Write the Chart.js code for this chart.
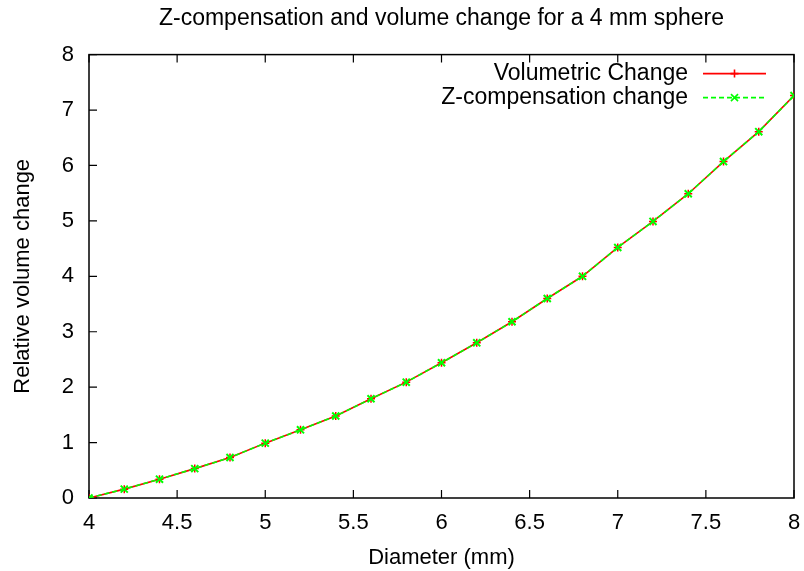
<!DOCTYPE html>
<html>
<head>
<meta charset="utf-8">
<script src="https://cdn.jsdelivr.net/npm/chart.js@4/dist/chart.umd.min.js"></script>
<style>
  body { margin: 0; background: #fff; }
  #wrap { width: 804px; height: 571px; }
</style>
</head>
<body>
<div id="wrap"><canvas id="sphere-chart"></canvas></div>
<script>
// values
var diameters = [4.0, 4.2, 4.4, 4.6, 4.8, 5.0, 5.2, 5.4, 5.6, 5.8, 6.0, 6.2, 6.4, 6.6, 6.8, 7.0, 7.2, 7.4, 7.6, 7.8, 8.0];
var volumetricChange = [0, 0.16, 0.34, 0.53, 0.73, 0.99, 1.23, 1.48, 1.79, 2.09, 2.44, 2.80, 3.18, 3.60, 4.00, 4.52, 4.99, 5.49, 6.07, 6.61, 7.26];
var zCompChange = [0, 0.16, 0.34, 0.53, 0.73, 0.99, 1.23, 1.48, 1.79, 2.09, 2.44, 2.80, 3.18, 3.60, 4.00, 4.52, 4.99, 5.49, 6.07, 6.61, 7.26];
var seriesNames = ["Volumetric Change", "Z-compensation change"];
var xTicks = [4, 4.5, 5, 5.5, 6, 6.5, 7, 7.5, 8];
var yTicks = [0, 1, 2, 3, 4, 5, 6, 7, 8];

var fontFamily = "'Liberation Sans', Arial, Helvetica, sans-serif";

function toPoints(xs, ys) {
    return xs.map(function (x, i) { return { x: x, y: ys[i] }; });
}

// gnuplot style box, inward ticks on bottom/top and left
var frameAndTicks = {
    id: 'frameAndTicks',
    beforeDatasetsDraw: function (chart) {
        var ctx = chart.ctx;
        var area = chart.chartArea;
        var xs = chart.scales.x;
        var ys = chart.scales.y;
        var len = 8;
        ctx.save();
        ctx.strokeStyle = '#000';
        ctx.lineWidth = 1.2;
        ctx.beginPath();
        xTicks.forEach(function (v) {
            var px = xs.getPixelForValue(v);
            ctx.moveTo(px, area.bottom);
            ctx.lineTo(px, area.bottom - len);
            ctx.moveTo(px, area.top);
            ctx.lineTo(px, area.top + len);
        });
        yTicks.forEach(function (v) {
            var py = ys.getPixelForValue(v);
            ctx.moveTo(area.left, py);
            ctx.lineTo(area.left + len, py);
        });
        ctx.stroke();
        ctx.lineWidth = 1.5;
        ctx.strokeRect(area.left, area.top, area.right - area.left, area.bottom - area.top);
        ctx.restore();
    }
};

// legend inside the top right corner: text, then line sample with marker
var keyBox = {
    id: 'keyBox',
    afterDraw: function (chart) {
        var ctx = chart.ctx;
        var area = chart.chartArea;
        var textRight = area.right - 106;
        var sampleLeft = area.right - 91;
        var sampleRight = area.right - 28;
        var rowTop = area.top + 19;
        var rowGap = 24;
        ctx.save();
        ctx.font = "23px " + fontFamily;
        ctx.textAlign = 'right';
        ctx.textBaseline = 'middle';
        chart.data.datasets.forEach(function (ds, i) {
            var y = rowTop + i * rowGap;
            ctx.fillStyle = '#000';
            ctx.fillText(ds.label, textRight, y);
            ctx.strokeStyle = ds.borderColor;
            ctx.lineWidth = ds.borderWidth;
            ctx.setLineDash(ds.borderDash || []);
            ctx.beginPath();
            ctx.moveTo(sampleLeft, y);
            ctx.lineTo(sampleRight, y);
            ctx.stroke();
            ctx.setLineDash([]);
            Chart.helpers.drawPoint(ctx, {
                pointStyle: ds.pointStyle,
                radius: ds.pointRadius,
                borderWidth: ds.pointBorderWidth
            }, (sampleLeft + sampleRight) / 2, y);
        });
        ctx.restore();
    }
};

var chartOptions = {
    type: 'line',
    data: {
        datasets: [
            {
                label: seriesNames[0],
                data: toPoints(diameters, volumetricChange),
                borderColor: '#ff0000',
                backgroundColor: '#ff0000',
                borderWidth: 1.6,
                pointStyle: 'cross',
                pointRadius: 4,
                pointBorderWidth: 1.5,
                pointBorderColor: '#ff0000',
                tension: 0,
                fill: false,
                order: 2
            },
            {
                label: seriesNames[1],
                data: toPoints(diameters, zCompChange),
                borderColor: '#00ff00',
                backgroundColor: '#00ff00',
                borderWidth: 1.6,
                borderDash: [5, 3],
                pointStyle: 'crossRot',
                pointRadius: 5,
                pointBorderWidth: 2,
                pointBorderColor: '#00ff00',
                tension: 0,
                fill: false,
                order: 1
            }
        ]
    },
    options: {
        responsive: true,
        maintainAspectRatio: false,
        animation: false,
        layout: { padding: { top: 0, right: 10, bottom: 0, left: 0 } },
        plugins: {
            legend: { display: false },
            tooltip: { enabled: false },
            title: {
                display: true,
                fullSize: false,
                text: 'Z-compensation and volume change for a 4 mm sphere',
                color: '#000',
                font: { family: fontFamily, size: 23, weight: 'normal' },
                padding: { top: 5, bottom: 22 }
            }
        },
        scales: {
            x: {
                type: 'linear',
                min: 4,
                max: 8,
                afterFit: function (scale) {
                    scale.height = 73;
                    scale.paddingRight = 0;
                },
                afterBuildTicks: function (scale) {
                    scale.ticks = xTicks.map(function (v) { return { value: v }; });
                },
                grid: { display: false, drawTicks: false },
                border: { display: false },
                ticks: {
                    color: '#000',
                    padding: 12,
                    maxRotation: 0,
                    font: { family: fontFamily, size: 22 },
                    callback: function (value) { return String(value); }
                },
                title: {
                    display: true,
                    text: 'Diameter (mm)',
                    color: '#000',
                    font: { family: fontFamily, size: 22 },
                    padding: { top: 0, bottom: 0 }
                }
            },
            y: {
                type: 'linear',
                min: 0,
                max: 8,
                afterFit: function (scale) { scale.width = 89; },
                afterBuildTicks: function (scale) {
                    scale.ticks = yTicks.map(function (v) { return { value: v }; });
                },
                grid: { display: false, drawTicks: false },
                border: { display: false },
                ticks: {
                    color: '#000',
                    padding: 15,
                    font: { family: fontFamily, size: 22 },
                    callback: function (value) { return String(value); }
                },
                title: {
                    display: true,
                    text: 'Relative volume change',
                    color: '#000',
                    font: { family: fontFamily, size: 22 },
                    padding: { top: 10, bottom: 0 }
                }
            }
        }
    },
    plugins: [frameAndTicks, keyBox]
};

var sphereChart = new Chart(document.querySelector('#sphere-chart'), chartOptions);
</script>
</body>
</html>
